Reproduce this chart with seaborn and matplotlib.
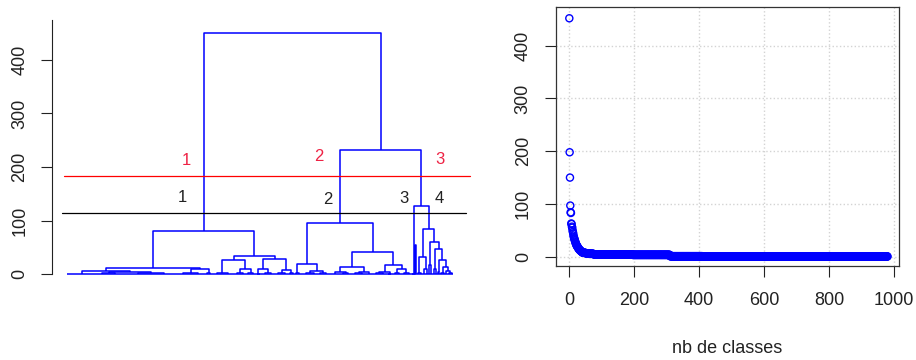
import warnings
warnings.filterwarnings("ignore")

import numpy as np
import pandas as pd
import matplotlib
matplotlib.use("Agg")
import matplotlib.pyplot as plt
from matplotlib.collections import LineCollection
import seaborn as sns

###### DATA ######

# dendrogram: a leaf is the width of a bundle of leaves, a node is (left, right, height)
LL = (30, ((10, 16, 2), (30, 22, 3), 3.5), 5.5)
LR = ((16, 15, 3), (3, 3, 1.5), 9)
R1a = ((10, 12, 3), ((6, 6, 2), (5, 4, 1.5), 9), 26)
R1b = (((3, 4, 1), (6, 6, 2), 9), ((8, 6, 2.5), (3, 3, 1.5), 8), 29)
cluster1 = ((LL, LR, 12.5), (R1a, R1b, 35), 80)

C2a = ((3, 4, 2), ((10, 6, 2), (6, 6, 3), 6), 20)
C2b1 = ((12, (5, 5, 1.5), 4), ((8, 7, 2), 6, 5), 13)
C2b2 = (((8, 6, 2), (4, 3, 1), 4), ((4, 4, 2), (6, 4, 3), 10), 17)
cluster2 = (C2a, (C2b1, C2b2, 42), 96)

cluster3 = (3, (1.5, 1.5, 55), 0.5)
C4a = ((2, 4, 2), (3, 2, 10), 33)
C4b = ((2, 3, 17), ((2, 2, 10), ((1.5, 2, 4), ((2, 2.5, 3), (3, (2.5, 2.5, 2), 6), 14), 26), 47), 60)
cluster4 = (C4a, C4b, 84)

tree = (cluster1, (cluster2, (cluster3, cluster4, 127), 232), 451)

cut_heights = [183, 114]
cut_colors = ['red', 'black']
labels_k3 = ['1', '2', '3']
labels_k3_x = [119, 252, 373]
labels_k3_y = [213, 219, 215]
labels_k4 = ['1', '2', '3', '4']
labels_k4_x = [115, 261, 337, 372]
labels_k4_y = [144, 140, 141, 141]

# merge heights, sorted, vs number of classes
heights_top = [452, 198, 150, 97, 84, 83, 63, 62, 57, 55,
               50, 47, 44, 40, 37, 35, 33, 31, 29, 27,
               25, 24, 22, 21, 20, 19, 18, 17, 16, 15,
               14, 13.5, 13, 12, 11.5, 11, 10.5, 10, 9.5, 9,
               8.5, 8]
tail_levels = [7.5, 6.5, 5.5, 4.5, 4, 3.5, 1, 0.5]
tail_counts = [8, 10, 15, 40, 80, 115, 100, 570]

heights = np.concatenate([heights_top, np.repeat(tail_levels, tail_counts)])
nb_classes = np.arange(1, len(heights) + 1)
df = pd.DataFrame({'nb': nb_classes, 'height': heights})


def layout(node, start, segs):
    # returns x position, end of the node's span and its height
    if not isinstance(node, tuple):
        segs.append([(start, 0), (start + node, 0)])
        return start + node / 2, start + node, 0.0
    xl, end, hl = layout(node[0], start, segs)
    xr, end, hr = layout(node[1], end, segs)
    h = node[2]
    segs.append([(xl, hl), (xl, h), (xr, h), (xr, hr)])
    return (xl + xr) / 2, end, h


###### PLOT ######
sns.set_style("white")
plt.rcParams['font.family'] = ['Liberation Sans', 'DejaVu Sans']

fig = plt.figure(figsize=(9.16, 3.6), dpi=100)

# dendrogram
ax1 = fig.add_axes([51.6 / 916, 76 / 360, 417 / 916, 263.8 / 360])
segs = []
layout(tree, 0, segs)
ax1.add_collection(LineCollection(segs, colors='#0000ff', linewidths=1.1))
ax1.set_xlim(-15.4, 401.6)
ax1.set_ylim(-18.1, 474)
for s in ['top', 'right', 'bottom']:
    ax1.spines[s].set_visible(False)
ax1.spines['left'].set_bounds(0, 474)
ax1.spines['left'].set_color('#222222')
ax1.set_xticks([])
ax1.set_yticks([0, 100, 200, 300, 400])
ax1.set_yticklabels(['0', '100', '200', '300', '400'], rotation=90, va='center')
ax1.tick_params(axis='y', length=7.7, width=0.8, pad=9, labelsize=13,
                left=True, color='#222222', labelcolor='#222222')

ax1.plot([-3, 403], [cut_heights[0]] * 2, color=cut_colors[0], lw=0.9, clip_on=False)
ax1.plot([-5, 399], [cut_heights[1]] * 2, color=cut_colors[1], lw=0.9, clip_on=False)
for t, x, y in zip(labels_k3, labels_k3_x, labels_k3_y):
    ax1.text(x, y, t, color='#ee2244', fontsize=12, ha='center', va='center')
for t, x, y in zip(labels_k4, labels_k4_x, labels_k4_y):
    ax1.text(x, y, t, color='#222222', fontsize=12, ha='center', va='center')

# heights vs nb de classes
ax2 = fig.add_axes([555.7 / 916, 94 / 360, 343.3 / 916, 258.7 / 360])
sns.scatterplot(data=df, x='nb', y='height', ax=ax2, marker='o', s=26,
                facecolor='none', edgecolor='#0000ff', linewidth=1.0)
ax2.collections[0].set_facecolor('none')
ax2.collections[0].set_edgecolor('#0000ff')
ax2.set_xlim(-40.9, 1015.4)
ax2.set_ylim(-17.6, 472.8)
ax2.set_axisbelow(True)
ax2.grid(True, color='lightgray', linestyle=':', linewidth=1.0)
ax2.set_xticks([0, 200, 400, 600, 800, 1000])
ax2.set_yticks([0, 100, 200, 300, 400])
ax2.set_yticklabels(['0', '100', '200', '300', '400'], rotation=90, va='center')
ax2.tick_params(axis='both', length=7.7, width=0.8, labelsize=13,
                bottom=True, left=True, color='#222222', labelcolor='#222222')
ax2.tick_params(axis='x', pad=11)
ax2.tick_params(axis='y', pad=9.5)
for s in ax2.spines.values():
    s.set_color('#333333')
    s.set_linewidth(0.9)
ax2.set_xlabel('nb de classes', fontsize=13, color='#222222')
ax2.set_ylabel('')
ax2.xaxis.set_label_coords(0.5, -0.285)

fig.savefig('out.png', dpi=100)
